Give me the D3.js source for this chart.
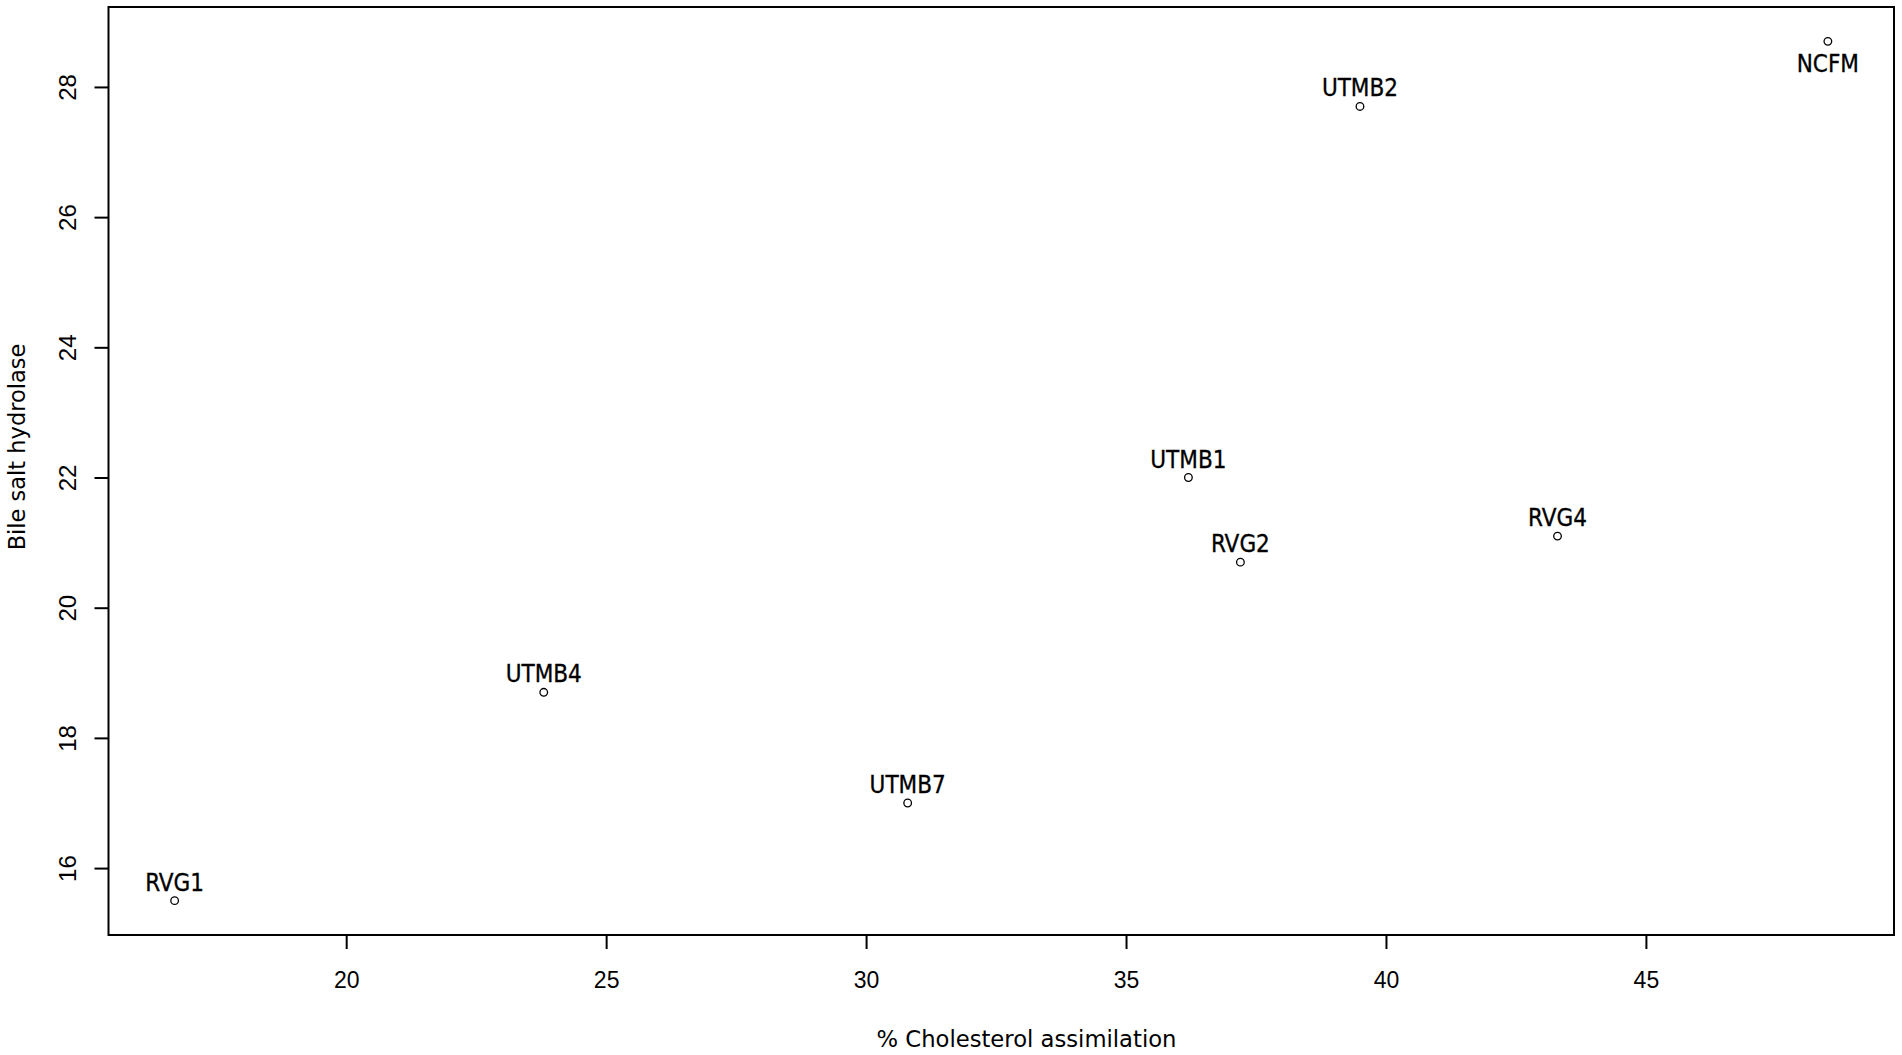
<!DOCTYPE html>
<html>
<head>
<meta charset="utf-8">
<script src="https://cdn.jsdelivr.net/npm/d3@7"></script>
<style>
html,body{margin:0;padding:0;background:#fff;}
svg{display:block;}
</style>
</head>
<body>
<svg id="chart" width="1902" height="1055"></svg>
<script>
// Data
const strains = ["RVG1","UTMB4","UTMB7","UTMB1","RVG2","RVG4","UTMB2","NCFM"];
const cholesterol = [16.7, 23.8, 30.8, 36.2, 37.2, 43.3, 39.5, 48.5];
const bsh = [15.5, 18.7, 17.0, 22.0, 20.7, 21.1, 27.7, 28.7];
const labelBelow = [false,false,false,false,false,false,false,true];
const xTicks = [20, 25, 30, 35, 40, 45];
const yTicks = [16, 18, 20, 22, 24, 26, 28];
const xTitle = "% Cholesterol assimilation";
const yTitle = "Bile salt hydrolase";

const W = 1902, H = 1055;
const plot = {left: 108.5, right: 1894, top: 7, bottom: 935};

function rExtend(vals){
  const e = d3.extent(vals); const p = (e[1]-e[0])*0.04;
  return [e[0]-p, e[1]+p];
}

const x = d3.scaleLinear().domain(rExtend(cholesterol)).range([plot.left, plot.right]);
const y = d3.scaleLinear().domain(rExtend(bsh)).range([plot.bottom, plot.top]);

const svg = d3.select("#chart");
svg.append("rect").attr("width",W).attr("height",H).attr("fill","#fff");

const labelFont = "'DejaVu Sans Condensed', 'DejaVu Sans', sans-serif";
const titleFont = "'DejaVu Sans', Verdana, sans-serif";
const tickFont = "'Liberation Sans', Arial, sans-serif";

// X axis
const gx = svg.append("g").attr("transform", `translate(0,${plot.bottom})`)
  .call(d3.axisBottom(x).tickValues(xTicks).tickSize(14).tickFormat(d3.format("d")));
gx.select(".domain").remove();
gx.selectAll(".tick line").attr("stroke","#000").attr("stroke-width",2);
gx.selectAll(".tick text").attr("y",53).attr("dy",0)
  .attr("font-family",tickFont).attr("font-size",23).attr("fill","#000");

// Y axis
const gy = svg.append("g").attr("transform", `translate(${plot.left},0)`)
  .call(d3.axisLeft(y).tickValues(yTicks).tickSize(14).tickFormat(d3.format("d")));
gy.select(".domain").remove();
gy.selectAll(".tick line").attr("stroke","#000").attr("stroke-width",2);
gy.selectAll(".tick text")
  .attr("transform","rotate(-90)")
  .attr("x",0).attr("y",-32.5).attr("dy",0)
  .attr("text-anchor","middle")
  .attr("font-family",tickFont).attr("font-size",24).attr("fill","#000");

// Box
svg.append("rect")
  .attr("x",plot.left).attr("y",plot.top)
  .attr("width",plot.right-plot.left).attr("height",plot.bottom-plot.top)
  .attr("fill","none").attr("stroke","#000").attr("stroke-width",2);

// Points
const pts = strains.map((s,i)=>({name:s, cx:cholesterol[i], cy:bsh[i], below:labelBelow[i]}));
svg.append("g").selectAll("circle").data(pts).join("circle")
  .attr("cx",d=>x(d.cx)).attr("cy",d=>y(d.cy)).attr("r",3.8)
  .attr("fill","none").attr("stroke","#000").attr("stroke-width",1.3);

// Labels
svg.append("g").selectAll("text").data(pts).join("text")
  .attr("x",d=>x(d.cx))
  .attr("y",d=>y(d.cy) + (d.below ? 31 : -10))
  .attr("text-anchor","middle")
  .attr("font-family",labelFont).attr("font-size",24).attr("fill","#000")
  .attr("stroke","#000").attr("stroke-width",0.3)
  .text(d=>d.name);

// Titles
svg.append("text").attr("x",1026.5).attr("y",1047).attr("text-anchor","middle")
  .attr("font-family",titleFont).attr("font-size",22.7).attr("fill","#000").text(xTitle);
svg.append("text").attr("transform","translate(25,447) rotate(-90)").attr("text-anchor","middle")
  .attr("font-family",titleFont).attr("font-size",22.5).attr("fill","#000").text(yTitle);
</script>
</body>
</html>
